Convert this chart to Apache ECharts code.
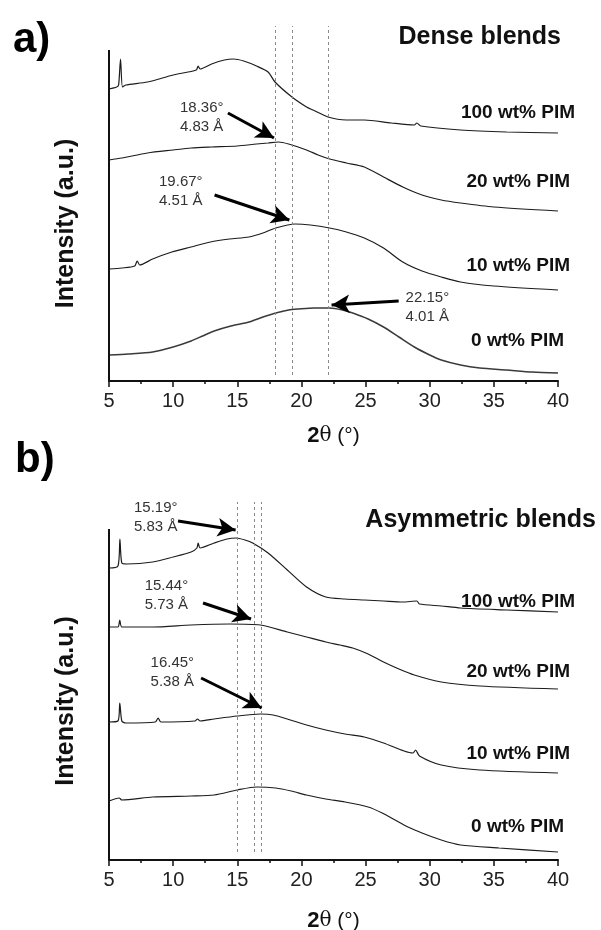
<!DOCTYPE html>
<html>
<head>
<meta charset="utf-8">
<script src="https://cdn.jsdelivr.net/npm/echarts@6/dist/echarts.min.js"></script>
<style>
  html, body { margin: 0; padding: 0; background: #fff; }
  #main { width: 601px; height: 930px; }
</style>
</head>
<body>
<div id="main"></div>
<script>
// 2θ (deg) / intensity (a.u., offset stacked)

// a) dense blends
var d100x = [5, 5.6, 5.75, 5.9, 6.05, 6.3, 8, 10, 11.8, 11.95, 12.1, 13, 14, 14.7, 15.5, 16.5, 17.4, 17.94, 19.26, 20.4, 20.9, 22.07, 23.5, 24.9, 27, 28.8, 29, 29.3, 32.4, 36, 40]
var d100y = [292, 294, 296, 322, 294, 296, 299, 306, 311, 315, 312, 317, 321, 322, 320, 315, 309, 299, 284, 274, 271, 264, 261, 261, 258, 256, 258, 255, 251, 249, 248]
var d20x = [5, 6, 8, 10, 11.4, 13, 15, 16.5, 17.4, 18.2, 19, 20.4, 21.3, 22.2, 23.5, 24.9, 26.4, 27.9, 29.4, 30.9, 32.4, 35, 40]
var d20y = [221, 223, 228, 231, 233, 234, 235, 237, 238, 239, 237, 231, 226, 222, 218, 214, 204, 194, 186, 181, 178, 174, 170]
var d10x = [5, 6, 7, 7.2, 7.4, 8.4, 9.9, 11.4, 12.9, 14.4, 15.9, 17, 18, 19.5, 20.7, 22.2, 23.5, 24.9, 26.4, 27.9, 29.4, 30.9, 32.4, 35, 40]
var d10y = [112, 113, 115, 120, 116, 122, 129, 134, 139, 142, 144, 148, 153, 157, 156, 153, 149, 143, 133, 119, 110, 104, 99, 95, 91]
var d0x = [5, 6.5, 8.4, 10, 11.4, 12.3, 13.2, 14.5, 15.9, 17, 18, 19, 19.8, 21, 22.2, 23.2, 24, 25.2, 26.4, 27.6, 28.8, 30, 30.9, 32.4, 33.9, 36, 38, 40]
var d0y = [26, 27, 29, 34, 40, 45, 50, 55, 59, 64, 68, 71, 72, 73, 73, 71, 68, 62, 54, 44, 34, 26, 21, 16, 13, 11, 9, 8]

// b) asymmetric blends
var a100x = [5, 5.7, 5.85, 6, 6.4, 8.4, 10, 11.4, 11.85, 11.95, 12.1, 13.2, 14.2, 14.9, 15.6, 16.2, 17.4, 18.9, 20.4, 21.9, 23.4, 24.9, 26.4, 27.9, 29, 29.2, 30.9, 32.4, 36, 40]
var a100y = [292, 294, 321, 297, 296, 298, 303, 308, 312, 317, 312, 317, 321, 322, 320, 317, 307, 290, 273, 263, 261, 260, 259, 258, 259, 256, 254, 252, 250, 248]
var a20x = [5, 5.7, 5.84, 6, 8.4, 11.4, 14.4, 16.8, 18.9, 20.4, 21.9, 23, 24, 25.2, 26.4, 27.6, 28.8, 30.9, 33.9, 40]
var a20y = [233, 233, 240, 233, 233, 235, 236, 235, 228, 223, 218, 215, 212, 206, 198, 191, 185, 178, 174, 171]
var a10x = [5, 5.7, 5.84, 6, 6.3, 8.6, 8.83, 9.05, 11.7, 11.9, 12.1, 13.2, 15, 16.8, 17.8, 18.9, 20.4, 21.9, 23.4, 24.9, 26.4, 28, 28.7, 28.9, 29.2, 30.9, 33.9, 40]
var a10y = [138, 139, 157, 139, 137, 138, 142, 138, 139, 141, 139, 141, 144, 146, 145, 141, 135, 130, 126, 123, 117, 109, 107, 110, 104, 95, 90, 87]
var a0x = [5, 5.8, 6, 8.4, 11.4, 13.2, 15, 16.5, 18, 19.2, 20.4, 21.9, 23.4, 25.2, 26.3, 27.3, 28.3, 29.4, 30.9, 32.4, 35.4, 40]
var a0y = [59, 62, 60, 63, 64, 65, 70, 73, 72, 69, 65, 61, 58, 53, 47, 40, 33, 27, 20, 15, 12, 8]

var sampleNames = ['100 wt% PIM', '20 wt% PIM', '10 wt% PIM', '0 wt% PIM']
var denseLabelY = [268, 199, 115, 40]
var asymLabelY = [258, 188, 106, 33]

var densePeakText = ['18.36°\n4.83 Å', '19.67°\n4.51 Å', '22.15°\n4.01 Å']
var densePeakPos = [[10.53, 263.5], [8.9, 189.5], [28.12, 74]]
var denseArrowFrom = [[14.27, 268], [13.23, 186], [27.58, 80]]
var denseArrowTo = [[17.86, 243], [19.06, 161], [22.35, 76]]
var denseRefX = [17.94, 19.26, 22.07]
var denseRefSpan = [6, 355]

var asymPeakText = ['15.19°\n5.83 Å', '15.44°\n5.73 Å', '16.45°\n5.38 Å']
var asymPeakPos = [[6.95, 342.5], [7.78, 264.5], [8.24, 187.5]]
var asymArrowFrom = [[10.38, 339], [12.33, 257], [12.18, 182]]
var asymArrowTo = [[14.87, 330], [16.07, 241], [16.9, 152]]
var asymRefX = [15.02, 16.31, 16.85]
var asymRefSpan = [8, 358]

// top of the drawn intensity axis line
var axisTop = 331

var FONT = 'Liberation Sans, Arial, sans-serif'
// label right edge past the 40° end, px
var labelShift = [17, 12, 12, 6]

function zip(xs, ys) {
  return xs.map(function (x, i) { return [x, ys[i]] })
}

function curve(xs, ys, idx, k, ly, color, width) {
  return {
    type: 'line',
    name: sampleNames[k],
    xAxisIndex: idx,
    yAxisIndex: idx,
    data: zip(xs, ys),
    showSymbol: false,
    symbol: 'none',
    smooth: 0.25,
    clip: false,
    lineStyle: { color: color || '#1c1c1c', width: width || 1.2 },
    silent: true,
    markPoint: {
      symbol: 'circle',
      symbolSize: 0,
      silent: true,
      data: [{ coord: [40, ly], name: sampleNames[k] }],
      label: {
        show: true,
        position: 'left',
        distance: 0,
        offset: [labelShift[k], 0],
        formatter: '{b}',
        color: '#111',
        fontFamily: FONT,
        fontWeight: 'bold',
        fontSize: 19
      }
    }
  }
}

function annotations(idx, refX, span, from, to, texts, pos) {
  var dashed = refX.map(function (x) {
    return [{ coord: [x, span[0]] }, { coord: [x, span[1]] }]
  })
  var arrows = from.map(function (f, i) {
    return [{ coord: f }, { coord: to[i] }]
  })
  return [
    {
      // the intensity axis line itself (shorter than the plot box)
      type: 'line', xAxisIndex: idx, yAxisIndex: idx, data: [], clip: false, silent: true,
      markLine: {
        silent: true, symbol: ['none', 'none'],
        label: { show: false },
        lineStyle: { color: '#111', width: 2, type: 'solid' },
        data: [[{ coord: [5, 0] }, { coord: [5, axisTop] }]]
      }
    },
    {
      type: 'line', xAxisIndex: idx, yAxisIndex: idx, data: [], clip: false, silent: true,
      markLine: {
        silent: true, symbol: ['none', 'none'],
        label: { show: false },
        lineStyle: { color: '#8a8a8a', width: 1, type: [3, 3] },
        data: dashed
      }
    },
    {
      type: 'line', xAxisIndex: idx, yAxisIndex: idx, data: [], clip: false, silent: true,
      markLine: {
        silent: true, symbol: ['none', 'arrow'], symbolSize: [14, 18],
        label: { show: false },
        lineStyle: { color: '#000', width: 3, type: 'solid' },
        data: arrows
      },
      markPoint: {
        symbol: 'circle', symbolSize: 0, silent: true,
        data: texts.map(function (t, i) { return { coord: pos[i], value: t } }),
        label: {
          show: true, position: 'right', distance: 0,
          formatter: function (p) { return p.value },
          color: '#333', fontFamily: FONT, fontSize: 15, lineHeight: 19, align: 'left'
        }
      }
    }
  ]
}

function xAxis(idx, gap) {
  return {
    gridIndex: idx,
    type: 'value',
    min: 5,
    max: 40,
    interval: 5,
    name: '{b|2}{t|θ}{n| (°)}',
    nameLocation: 'middle',
    nameGap: gap,
    nameTextStyle: {
      rich: {
        b: { fontFamily: FONT, fontWeight: 'bold', fontSize: 22, color: '#111' },
        t: { fontFamily: 'DejaVu Serif, serif', fontSize: 20, color: '#111' },
        n: { fontFamily: FONT, fontSize: 21, color: '#111' }
      }
    },
    axisLine: { show: true, onZero: false, lineStyle: { color: '#111', width: 2 } },
    axisTick: { show: true, inside: false, length: 6, lineStyle: { color: '#111', width: 1.5 } },
    minorTick: { show: true, splitNumber: 2, length: 3, lineStyle: { color: '#111', width: 1.5 } },
    splitLine: { show: false },
    axisLabel: { fontFamily: FONT, fontSize: 20, color: '#222', margin: 10 }
  }
}

function yAxis(idx, max) {
  return {
    gridIndex: idx,
    type: 'value',
    min: 0,
    max: max,
    name: 'Intensity (a.u.)',
    nameLocation: 'middle',
    nameRotate: 90,
    nameGap: 30,
    nameTextStyle: {
      fontFamily: FONT, fontWeight: 'bold', fontSize: 25, color: '#111',
      padding: [0, 40, 0, 0]
    },
    axisLine: { show: false },
    axisTick: { show: false },
    axisLabel: { show: false },
    splitLine: { show: false }
  }
}

var chart = echarts.init(document.getElementById('main'), null, { renderer: 'canvas' })

var series = [
  curve(d100x, d100y, 0, 0, denseLabelY[0]),
  curve(d20x, d20y, 0, 1, denseLabelY[1]),
  curve(d10x, d10y, 0, 2, denseLabelY[2]),
  curve(d0x, d0y, 0, 3, denseLabelY[3], '#3a3a3a', 1.5),
  curve(a100x, a100y, 1, 0, asymLabelY[0]),
  curve(a20x, a20y, 1, 1, asymLabelY[1]),
  curve(a10x, a10y, 1, 2, asymLabelY[2]),
  curve(a0x, a0y, 1, 3, asymLabelY[3])
].concat(
  annotations(0, denseRefX, denseRefSpan, denseArrowFrom, denseArrowTo, densePeakText, densePeakPos),
  annotations(1, asymRefX, asymRefSpan, asymArrowFrom, asymArrowTo, asymPeakText, asymPeakPos)
)

var option = {
  animation: false,
  backgroundColor: '#fff',
  title: [
    { text: 'a)', left: 8, top: 14, textStyle: { fontFamily: FONT, fontWeight: 'bold', fontSize: 42, color: '#000' } },
    { text: 'Dense blends', right: 35, top: 20, textStyle: { fontFamily: FONT, fontWeight: 'bold', fontSize: 25, color: '#111' } },
    { text: 'b)', left: 10, top: 434, textStyle: { fontFamily: FONT, fontWeight: 'bold', fontSize: 42, color: '#000' } },
    { text: 'Asymmetric blends', right: 0, top: 503, textStyle: { fontFamily: FONT, fontWeight: 'bold', fontSize: 25, color: '#111' } }
  ],
  grid: [
    { left: 109, right: 43, top: 26, bottom: 549, outerBoundsMode: 'none' },
    { left: 109, right: 43, top: 502, bottom: 70, outerBoundsMode: 'none' }
  ],
  xAxis: [xAxis(0, 44), xAxis(1, 50)],
  yAxis: [yAxis(0, 355), yAxis(1, 358)],
  series: series
}

chart.setOption(option)
</script>
</body>
</html>
